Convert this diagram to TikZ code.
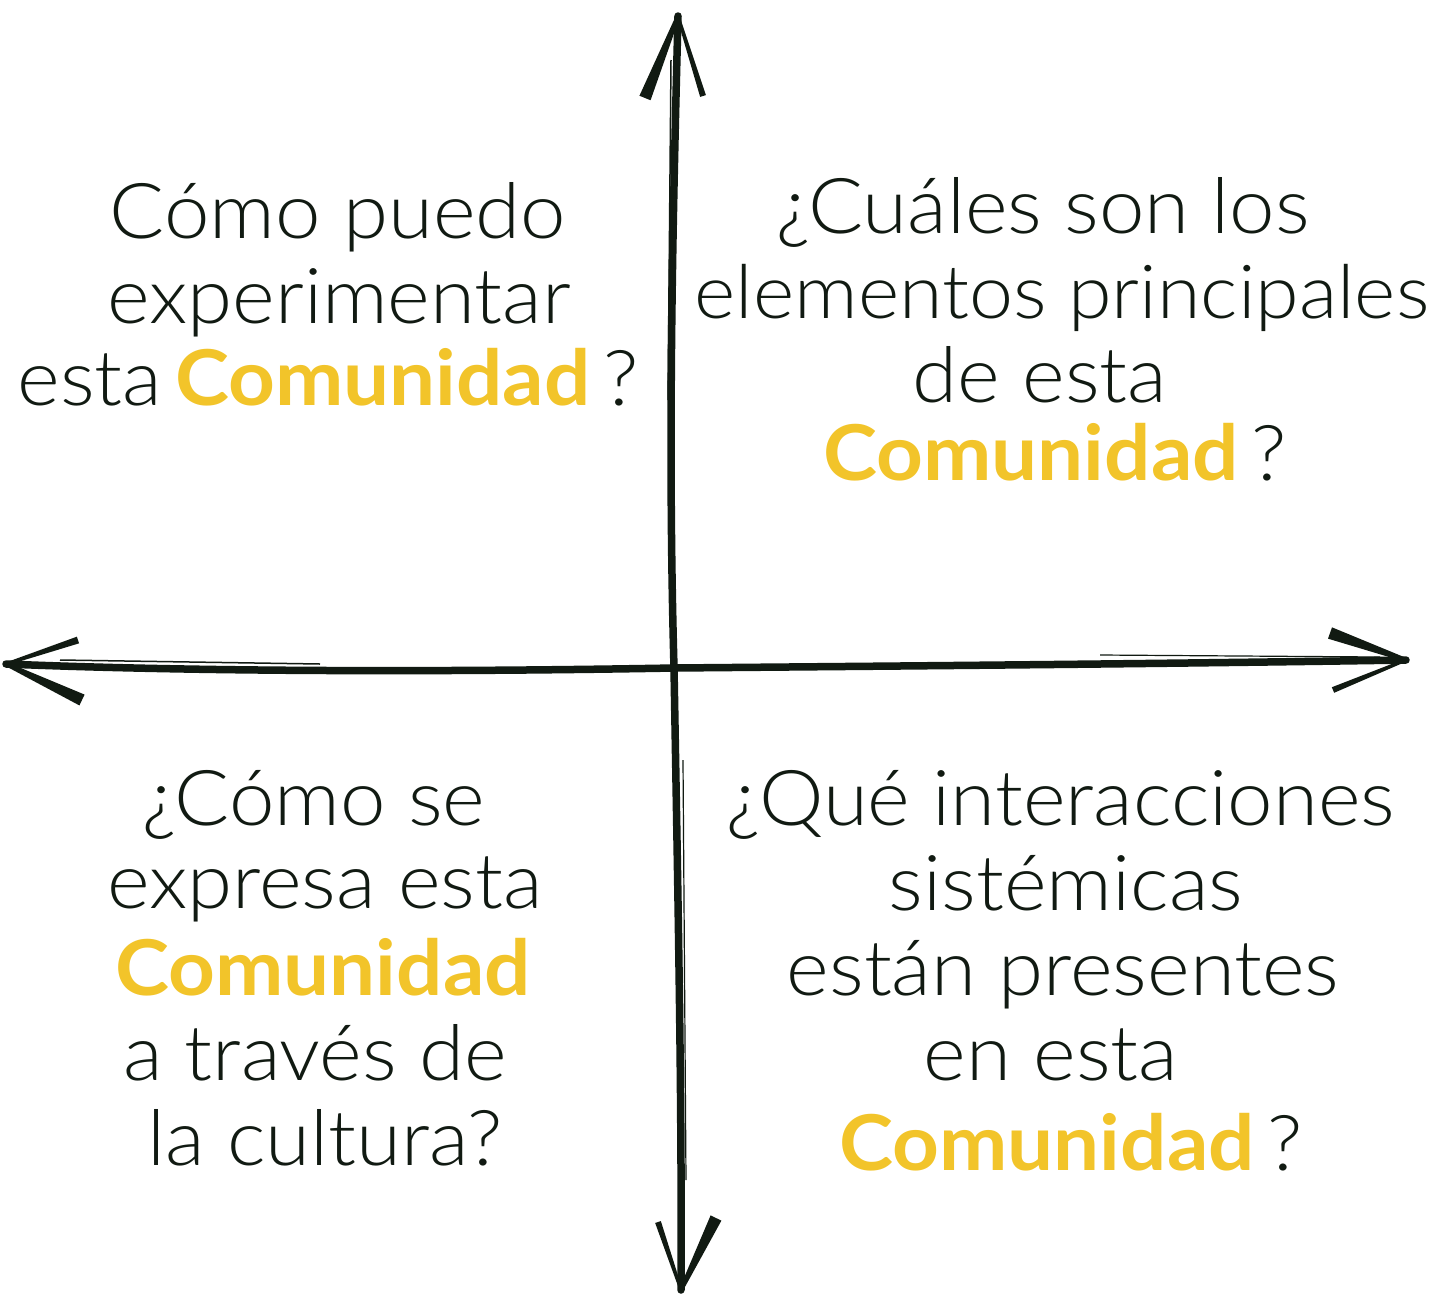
\documentclass[tikz,border=0pt]{standalone}
\usepackage{fontspec}
\IfFontExistsTF{Lato Light}
  {\setmainfont{Lato Light}[FakeStretch=1.06,BoldFont=Lato Bold]}
  {\setmainfont{Lato}[FakeStretch=1.06]}
\usetikzlibrary{calc}
\definecolor{ink}{HTML}{111A12}
\definecolor{cy}{HTML}{F2C42A}
\newcommand\brushstroke[4]{%
  \fill[ink] ($(#1)!#3pt!90:(#2)$) -- ($(#2)!#4pt!-90:(#1)$) -- ($(#2)!#4pt!90:(#1)$) -- ($(#1)!#3pt!-90:(#2)$) -- cycle;}
\newcommand\com{\textcolor{cy}{\bfseries Comunidad}}
\begin{document}
\begin{tikzpicture}[x=1pt,y=-1pt,
  q/.style={anchor=base,text=ink,inner sep=0pt,font=\fontsize{77}{90}\selectfont},
  axis/.style={draw=ink,line width=7.5pt,line cap=round,line join=round}]
\useasboundingbox (0,0) rectangle (1440,1296);
% axis coordinates
\coordinate (top) at (678,16);
\coordinate (bot) at (681,1290);
\coordinate (lft) at (6,664);
\coordinate (rgt) at (1406,660);
\coordinate (ctr) at (674,668);
% vertical axis
\draw[axis] (top) .. controls (672,250) and (668,450) .. (ctr) .. controls (678,900) and (682,1100) .. (bot);
\draw[ink,line width=1.5pt] (671,60) -- (668,400);
\draw[ink,line width=1.2pt] (683,760) -- (686,1180);
% horizontal axis
\draw[axis] (lft) .. controls (200,672) and (450,672) .. (ctr) .. controls (900,666) and (1150,664) .. (rgt);
\draw[ink,line width=1.5pt] (60,660) -- (320,664);
\draw[ink,line width=1.2pt] (1100,655) -- (1380,657);
% barbs
\coordinate (t1) at (645,98); \coordinate (t2) at (703,96);
\coordinate (b1) at (658,1222); \coordinate (b2) at (716,1218);
\coordinate (l1) at (78,640); \coordinate (l2) at (82,700);
\coordinate (r1) at (1330,633); \coordinate (r2) at (1333,690);
\brushstroke{top}{t1}{2}{6}
\brushstroke{top}{t2}{1.5}{3}
\brushstroke{bot}{b1}{1.5}{3}
\brushstroke{bot}{b2}{2}{6}
\brushstroke{lft}{l1}{1.5}{3.5}
\brushstroke{lft}{l2}{2}{6}
\brushstroke{rgt}{r1}{2}{6}
\brushstroke{rgt}{r2}{1.5}{3}
% top-left
\node[q] (tl1) at (338,238) {Cómo puedo};
\node[q] (tl2) at (339,323) {experimentar};
\node[q] (tl3) at (328,405) {esta\,\com\,?};
% top-right
\node[q] (tr1) at (1043,233) {¿Cuáles son los};
\node[q,font=\fontsize{74.5}{90}\selectfont] (tr2) at (1062,318) {elementos principales};
\node[q] (tr3) at (1040,402) {de esta};
\node[q] (tr4) at (1055,480) {\com\,?};
% bottom-left
\node[q] (bl1) at (314,825) {¿Cómo se};
\node[q] (bl2) at (325,908) {expresa esta};
\node[q] (bl3) at (323,995) {\com};
\node[q] (bl4) at (315,1080) {a través de};
\node[q] (bl5) at (325,1165) {la cultura?};
% bottom-right
\node[q] (br1) at (1061,825) {¿Qué interacciones};
\node[q] (br2) at (1066,910) {sistémicas};
\node[q] (br3) at (1063,995) {están presentes};
\node[q] (br4) at (1051,1080) {en esta};
\node[q] (br5) at (1071,1170) {\com\,?};
\end{tikzpicture}
\end{document}
